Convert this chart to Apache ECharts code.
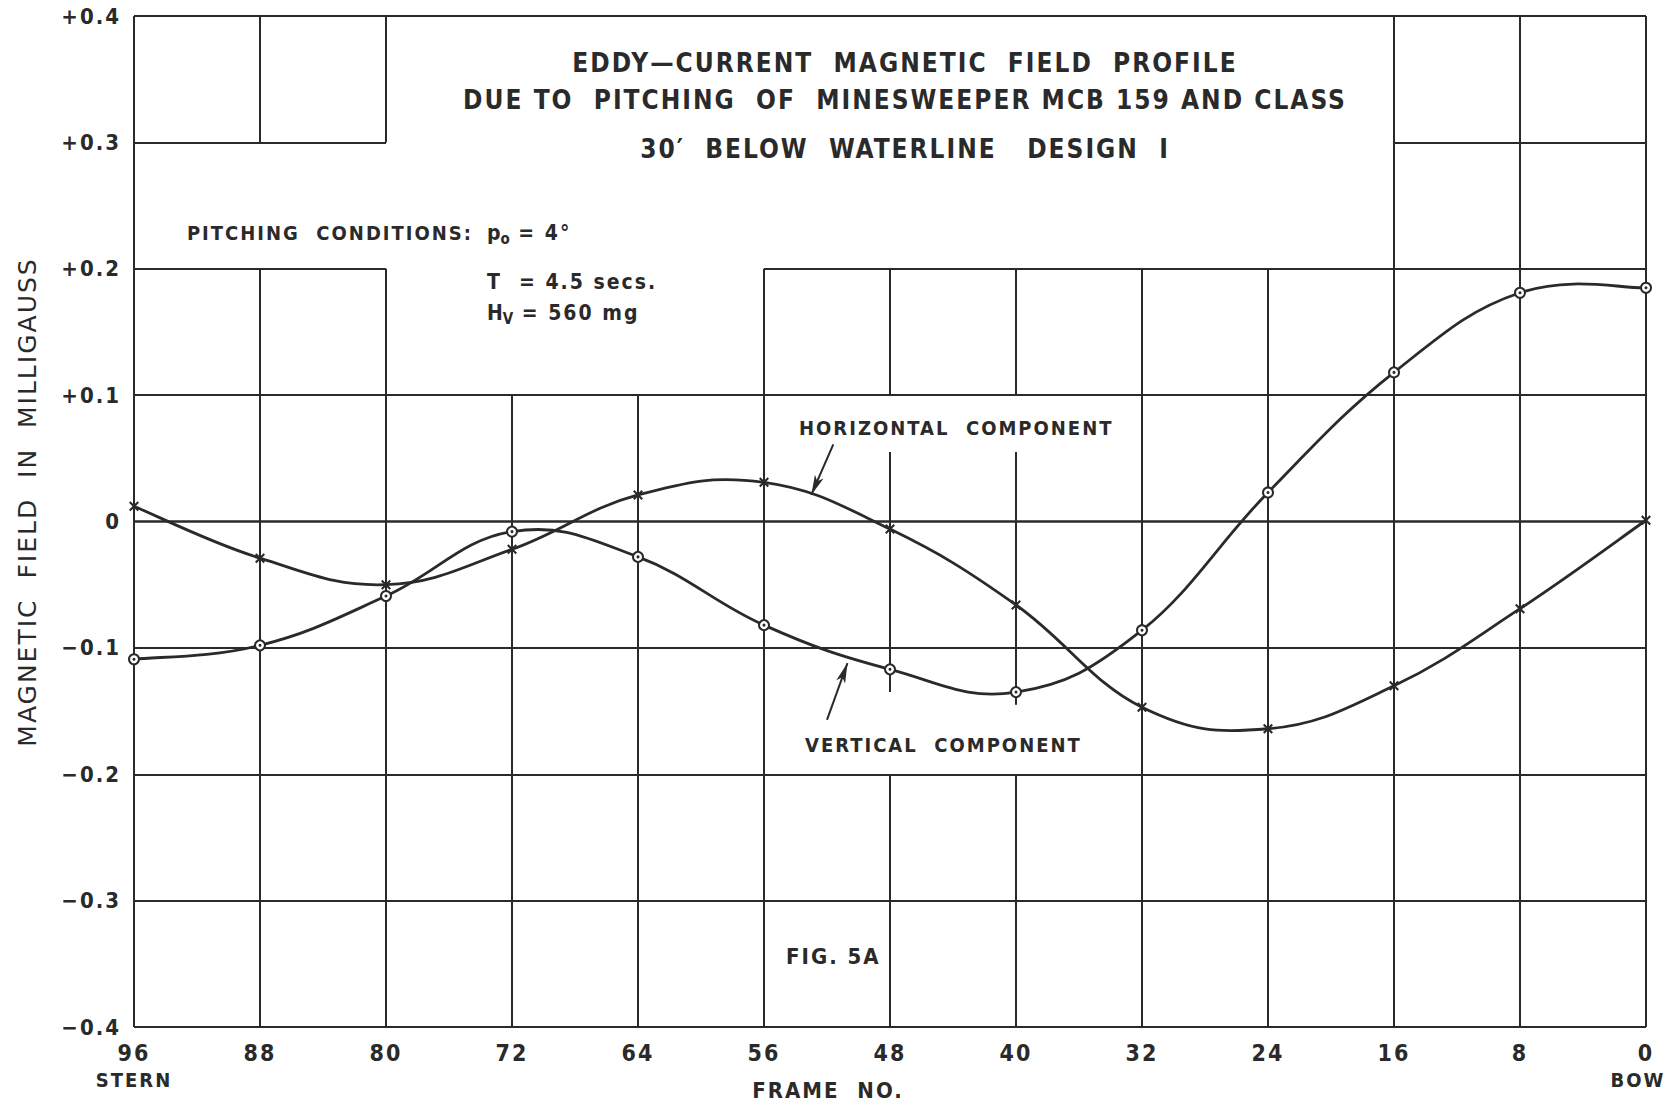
<!DOCTYPE html>
<html>
<head>
<meta charset="utf-8">
<title>Eddy-current magnetic field profile</title>
<script src="https://cdn.jsdelivr.net/npm/echarts@6/dist/echarts.min.js"></script>
<style>
  html, body { margin: 0; padding: 0; background: #fff; }
  #chart { width: 1669px; height: 1105px; letter-spacing: 2px; }
  #chart text { white-space: pre; }
</style>
</head>
<body>
<div id="chart"></div>
<script>
// frame numbers run from stern (96) to bow (0)
const frames = [96, 88, 80, 72, 64, 56, 48, 40, 32, 24, 16, 8, 0];
const verticalComp = [-0.109, -0.098, -0.059, -0.008, -0.028, -0.082, -0.117, -0.135, -0.086, 0.023, 0.118, 0.181, 0.185];
const horizontalComp = [0.012, -0.029, -0.050, -0.022, 0.021, 0.031, -0.006, -0.066, -0.147, -0.164, -0.130, -0.069, 0.001];
const endNames = { 96: 'STERN', 0: 'BOW' };

// grid pieces the draftsman kept (the rest was blanked for the lettering)
// vertical: [frame, from, to]   horizontal: [value, fromFrame, toFrame]
const gridVertical = [
  [96, -0.4, 0.4],
  [88, 0.3, 0.4], [88, -0.4, 0.2],
  [80, 0.3, 0.4], [80, -0.4, 0.2],
  [72, -0.4, 0.1], [64, -0.4, 0.1],
  [56, -0.4, 0.2],
  [48, 0.1, 0.2], [48, -0.135, 0.055], [48, -0.4, -0.2],
  [40, 0.1, 0.2], [40, -0.145, 0.055], [40, -0.4, -0.2],
  [32, -0.4, 0.2], [24, -0.4, 0.2],
  [16, -0.4, 0.4], [8, -0.4, 0.4], [0, -0.4, 0.4]
];
const gridHorizontal = [
  [0.4, 96, 0], [0.3, 96, 80], [0.3, 16, 0], [0.2, 96, 80], [0.2, 56, 0],
  [0.1, 96, 0], [0, 96, 0], [-0.1, 96, 0], [-0.2, 96, 0], [-0.3, 96, 0], [-0.4, 96, 0]
];

// pointer arrows from the labels to the curves: [[frame, value], [frame, value]]
const hArrow = [[51.6, 0.061], [53.0, 0.021]];
const vArrow = [[52.0, -0.157], [50.7, -0.112]];

const ink = '#2a2a2a';
const font = '"DejaVu Sans Condensed"';
const titleFont = 'bold 26px ' + font;
const xMark = 'path://M0,1.5L1.5,0L5,3.5L8.5,0L10,1.5L6.5,5L10,8.5L8.5,10L5,6.5L1.5,10L0,8.5L3.5,5Z';

function fmtY(v) {
  const r = Math.round(v * 10) / 10;
  if (r === 0) return '0';
  return (r > 0 ? '+' : '\u2212') + Math.abs(r).toFixed(1);
}

function arrowLine(pts) {
  return [
    { coord: pts[0], symbol: 'none' },
    { coord: pts[1], symbol: 'arrow', symbolSize: [7, 20] }
  ];
}

// french-curve look: cardinal spline through the plotted points (pixel space)
function splinePath(pts) {
  const k = 5;
  let d = 'M' + pts[0][0] + ',' + pts[0][1];
  for (let i = 0; i < pts.length - 1; i++) {
    const p0 = pts[i - 1] || pts[i];
    const p1 = pts[i];
    const p2 = pts[i + 1];
    const p3 = pts[i + 2] || pts[i + 1];
    const c1x = p1[0] + (p2[0] - p0[0]) / k, c1y = p1[1] + (p2[1] - p0[1]) / k;
    const c2x = p2[0] - (p3[0] - p1[0]) / k, c2y = p2[1] - (p3[1] - p1[1]) / k;
    d += 'C' + c1x + ',' + c1y + ',' + c2x + ',' + c2y + ',' + p2[0] + ',' + p2[1];
  }
  return d;
}

function curveSeries(name, points) {
  return {
    name: name,
    type: 'custom',
    silent: true,
    z: 3,
    data: points,
    encode: { x: 0, y: 1 },
    renderItem: (params, api) => {
      if (params.dataIndex !== 0) return null;
      const px = points.map((p) => api.coord(p));
      return {
        type: 'path',
        shape: { pathData: splinePath(px) },
        style: { fill: 'none', stroke: ink, lineWidth: 2.8 }
      };
    }
  };
}

const gridData = gridVertical.map(([f, a, b]) => ({ coords: [[f, a], [f, b]] }))
  .concat(gridHorizontal.map(([v, a, b]) => ({
    coords: [[a, v], [b, v]],
    lineStyle: v === 0 ? { width: 2.6 } : undefined
  })));

const vPoints = frames.map((f, i) => [f, verticalComp[i]]);
const hPoints = frames.map((f, i) => [f, horizontalComp[i]]);

const chart = echarts.init(document.getElementById('chart'), null, { renderer: 'svg' });

const label = (size) => ({ fontFamily: font, fontWeight: 'bold', fontSize: size, color: ink });

const option = {
  backgroundColor: '#fff',
  animation: false,
  grid: { left: 134, right: 23, top: 16, bottom: 78, containLabel: false, outerBoundsMode: 'none' },
  xAxis: {
    type: 'value',
    inverse: true,
    min: 0,
    max: 96,
    interval: 8,
    axisLine: { show: false },
    axisTick: { show: false },
    splitLine: { show: false },
    axisLabel: {
      margin: 11,
      formatter: (v) => endNames[v] ? `{n|${v}}\n{${v ? 'e' : 'b'}|${endNames[v]}}` : `{n|${v}}`,
      rich: {
        n: Object.assign(label(23), { lineHeight: 29 }),
        e: Object.assign(label(20), { lineHeight: 26 }),
        b: Object.assign(label(20), { lineHeight: 26, padding: [0, 16, 0, 0] })
      }
    },
    name: 'FRAME  NO.',
    nameLocation: 'middle',
    nameGap: 52,
    nameMoveOverlap: false,
    nameTextStyle: Object.assign(label(22), { padding: [0, 124, 0, 0] })
  },
  yAxis: {
    type: 'value',
    min: -0.4,
    max: 0.4,
    interval: 0.1,
    axisLine: { show: false },
    axisTick: { show: false },
    splitLine: { show: false },
    axisLabel: Object.assign(label(22), { margin: 13, formatter: fmtY }),
    name: 'MAGNETIC  FIELD  IN  MILLIGAUSS',
    nameLocation: 'middle',
    nameGap: 94,
    nameMoveOverlap: false,
    nameTextStyle: { fontFamily: '"DejaVu Sans"', fontSize: 25, color: ink, padding: [0, 0, 0, 39] }
  },
  series: [
    {
      name: 'grid',
      type: 'lines',
      coordinateSystem: 'cartesian2d',
      silent: true,
      z: 1,
      lineStyle: { color: ink, width: 2, opacity: 1 },
      data: gridData
    },
    curveSeries('vertical curve', vPoints),
    curveSeries('horizontal curve', hPoints),
    {
      name: 'VERTICAL COMPONENT',
      type: 'scatter',
      data: vPoints,
      z: 4,
      silent: true,
      symbol: 'circle',
      symbolSize: 10,
      itemStyle: { color: '#fff', borderColor: ink, borderWidth: 2, opacity: 1 },
      markLine: {
        silent: true,
        label: { show: false },
        lineStyle: { color: ink, width: 2, type: 'solid' },
        data: [arrowLine(vArrow)]
      }
    },
    {
      name: 'vertical dots',
      type: 'scatter',
      data: vPoints,
      z: 5,
      silent: true,
      symbol: 'circle',
      symbolSize: 3,
      itemStyle: { color: ink, opacity: 1 }
    },
    {
      name: 'HORIZONTAL COMPONENT',
      type: 'scatter',
      data: hPoints,
      z: 4,
      silent: true,
      symbol: xMark,
      symbolSize: 10,
      itemStyle: { color: ink, opacity: 1 },
      markLine: {
        silent: true,
        label: { show: false },
        lineStyle: { color: ink, width: 2, type: 'solid' },
        data: [arrowLine(hArrow)]
      }
    }
  ],
  graphic: [
    { type: 'text', x: 905, y: 63, style: { text: 'EDDY\u2014CURRENT  MAGNETIC  FIELD  PROFILE', font: titleFont, fill: ink, align: 'center', verticalAlign: 'middle' } },
    { type: 'text', x: 905, y: 100, style: { text: 'DUE TO  PITCHING  OF  MINESWEEPER MCB 159 AND CLASS', font: titleFont, fill: ink, align: 'center', verticalAlign: 'middle' } },
    { type: 'text', x: 905, y: 149, style: { text: '30\u2032  BELOW  WATERLINE   DESIGN  I', font: titleFont, fill: ink, align: 'center', verticalAlign: 'middle' } },
    { type: 'text', x: 473, y: 233, style: { text: 'PITCHING  CONDITIONS:', font: 'bold 20px ' + font, fill: ink, align: 'right', verticalAlign: 'middle' } },
    { type: 'text', x: 487, y: 233, style: {
      text: '{t|p}{s|o}{t| = 4\u00b0}', align: 'left', verticalAlign: 'middle',
      rich: { t: { fontFamily: font, fontWeight: 'bold', fontSize: 21, lineHeight: 26, fill: ink }, s: { fontFamily: font, fontWeight: 'bold', fontSize: 15, lineHeight: 26, verticalAlign: 'bottom', fill: ink } }
    } },
    { type: 'text', x: 487, y: 282, style: { text: 'T  = 4.5 secs.', font: 'bold 21px ' + font, fill: ink, align: 'left', verticalAlign: 'middle' } },
    { type: 'text', x: 487, y: 313, style: {
      text: '{t|H}{s|V}{t| = 560 mg}', align: 'left', verticalAlign: 'middle',
      rich: { t: { fontFamily: font, fontWeight: 'bold', fontSize: 21, lineHeight: 26, fill: ink }, s: { fontFamily: font, fontWeight: 'bold', fontSize: 15, lineHeight: 26, verticalAlign: 'bottom', fill: ink } }
    } },
    { type: 'text', x: 799, y: 428, style: { text: 'HORIZONTAL  COMPONENT', font: 'bold 20px ' + font, fill: ink, align: 'left', verticalAlign: 'middle' } },
    { type: 'text', x: 805, y: 745, style: { text: 'VERTICAL  COMPONENT', font: 'bold 20px ' + font, fill: ink, align: 'left', verticalAlign: 'middle' } },
    { type: 'text', x: 786, y: 956, style: { text: 'FIG. 5A', font: 'bold 22px ' + font, fill: ink, align: 'left', verticalAlign: 'middle' } }
  ]
};

chart.setOption(option);
</script>
</body>
</html>
